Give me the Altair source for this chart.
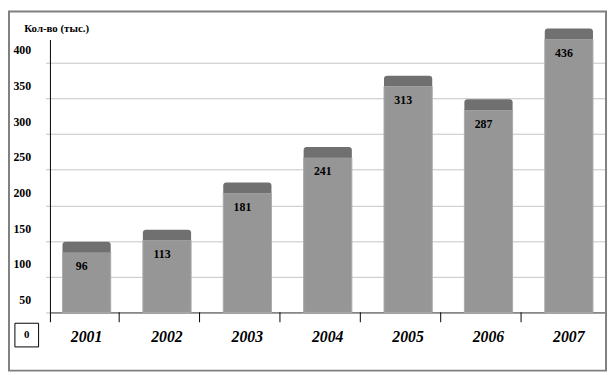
import altair as alt
import pandas as pd

# --- data ---
years = ["2001", "2002", "2003", "2004", "2005", "2006", "2007"]
labels = [96, 113, 181, 241, 313, 287, 436]          # numbers printed on the bars
bar_tops = [134, 151, 217, 267, 367, 334, 433]       # drawn front-face height on the y axis
y_ticks = [50, 100, 150, 200, 250, 300, 350, 400]

df = pd.DataFrame({"year": years, "label": labels, "top": bar_tops})

SERIF = "Liberation Serif"
FLOOR = 50
DEPTH = 15

xscale = alt.Scale(domain=years, paddingInner=0.4, paddingOuter=0.15)
yscale = alt.Scale(domain=[FLOOR, 432], nice=False, zero=False)

x_axis = alt.Axis(
    labelAngle=0, labelFont=SERIF, labelFontSize=16, labelFontWeight="bold",
    labelFontStyle="italic", labelColor="black", labelPadding=17,
    domainColor="#888888", domainWidth=2, ticks=False, grid=False,
)
y_axis = alt.Axis(
    values=y_ticks, grid=True, gridColor="#c4c4c4", gridWidth=1,
    domain=False, ticks=True, tickSize=5,
    tickColor="#c4c4c4", labelPadding=15, labelOffset=-13,
    labelOverlap=False, labelBound=False, labelFlush=False,
    labelFont=SERIF, labelFontSize=12, labelFontWeight="bold", labelColor="black",
    titleAngle=0, titleX=-27, titleY=-12, titleAlign="left", titleBaseline="middle",
    titleFont=SERIF, titleFontSize=11, titleFontWeight="bold", titleColor="black",
)

x_enc = alt.X("year:N", scale=xscale, sort=years, title=None, axis=x_axis)
y_enc = alt.Y("top:Q", scale=yscale, title="Кол-во (тыс.)", axis=y_axis)

base = alt.Chart(df)

front = base.mark_bar(color="#969696", stroke="#ababab", strokeWidth=1).encode(
    x=x_enc, y=y_enc, y2=alt.datum(FLOOR)
)

cap = base.transform_calculate(cap=f"datum.top + {DEPTH}").mark_bar(
    color="#707070", cornerRadiusTopLeft=3, cornerRadiusTopRight=3
).encode(x=x_enc, y=y_enc, y2="cap:Q")

text = base.mark_text(
    font=SERIF, fontSize=12, fontWeight="bold", color="black",
    dy=14, dx=-5, baseline="middle",
).encode(x=x_enc, y=y_enc, text="label:Q")

# category separator ticks below the floor (left of each bar, except the first)
sep = base.transform_filter("datum.year != '2001'").mark_rule(
    color="black", strokeWidth=1
).encode(
    x=x_enc, xOffset=alt.value(-24),
    y=alt.value(276), y2=alt.value(286),
)

# vertical axis line, running a little below the floor
yline = alt.Chart(pd.DataFrame({"a": [0]})).mark_rule(color="black", strokeWidth=1).encode(
    x=alt.value(0), y=alt.value(0), y2=alt.value(286)
)

# outer frame and the "0" box
frame = alt.Chart(pd.DataFrame({"a": [0]})).mark_rect(
    fill="transparent", stroke="#808080", strokeWidth=2
).encode(x=alt.value(-42), x2=alt.value(563), y=alt.value(-29), y2=alt.value(335))

zero_box = alt.Chart(pd.DataFrame({"a": [0]})).mark_rect(
    fill="white", stroke="black", strokeWidth=1
).encode(x=alt.value(-36), x2=alt.value(-12), y=alt.value(287), y2=alt.value(311))

zero_txt = alt.Chart(pd.DataFrame({"t": ["0"]})).mark_text(
    font=SERIF, fontSize=11, fontWeight="bold", color="black", baseline="middle"
).encode(x=alt.value(-24), y=alt.value(299), text="t:N")

chart = alt.layer(front, cap, text, sep, yline, frame, zero_box, zero_txt).properties(
    width=562, height=276,
    autosize=alt.AutoSizeParams(type="none"),
    padding={"left": 43, "top": 30, "right": 3, "bottom": 61},
    background="white",
).configure_view(stroke=None)

chart.save("out.html", embed_options={"renderer": "svg", "actions": False})
